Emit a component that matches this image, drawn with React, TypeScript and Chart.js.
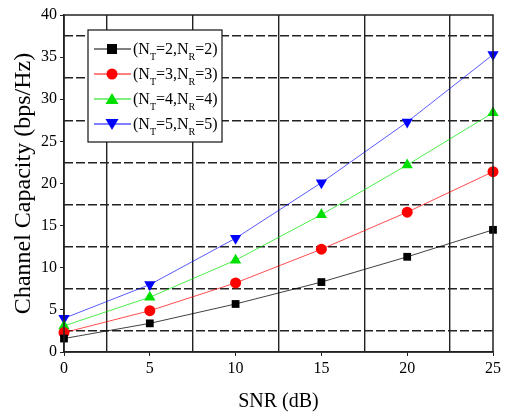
import React, { useEffect, useRef } from "react";
import { Chart, registerables } from "chart.js";

Chart.register(...registerables);

const snr = [0, 5, 10, 15, 20, 25];
const cap22 = [1.6, 3.4, 5.7, 8.3, 11.3, 14.5];
const cap33 = [2.3, 4.9, 8.2, 12.2, 16.6, 21.4];
const cap44 = [3.1, 6.5, 10.9, 16.3, 22.2, 28.4];
const cap55 = [4.0, 8.0, 13.5, 20.1, 27.3, 35.3];

const legendNT = ["2", "3", "4", "5"];
const legendNR = ["2", "3", "4", "5"];

const xGridLines = [2.5, 7.5, 12.5, 17.5, 22.5];
const yGridLines = [2.5, 7.5, 12.5, 17.5, 22.5, 27.5, 32.5, 37.5];

const FONT = "'Liberation Serif', 'Times New Roman', serif";

const seriesStyles = [
  { color: "#000000", line: "rgba(0,0,0,0.75)", point: "rect", rotation: 0, radius: 5.5 },
  { color: "#ff0000", line: "rgba(255,0,0,0.7)", point: "circle", rotation: 0, radius: 5.5 },
  { color: "#00e000", line: "rgba(0,230,0,0.7)", point: "triangle", rotation: 0, radius: 6.5 },
  { color: "#0000ff", line: "rgba(0,0,255,0.65)", point: "triangle", rotation: 180, radius: 6.5 },
];

const frameLegendPlugin = {
  id: "frameLegend",
  afterDraw(chart: any) {
    const { ctx, chartArea } = chart;
    ctx.save();
    ctx.strokeStyle = "#222";
    ctx.lineWidth = 1.5;
    ctx.setLineDash([]);
    ctx.strokeRect(chartArea.left, chartArea.top, chartArea.right - chartArea.left, chartArea.bottom - chartArea.top);

    // legend box
    const bx = 88, by = 30, bw = 134, bh = 112;
    ctx.fillStyle = "#fff";
    ctx.fillRect(bx, by, bw, bh);
    ctx.strokeStyle = "#111";
    ctx.lineWidth = 1.2;
    ctx.strokeRect(bx, by, bw, bh);

    const rows = [49, 74, 99, 124];
    chart.data.datasets.forEach((ds: any, i: number) => {
      const st = seriesStyles[i];
      const cy = rows[i];
      ctx.strokeStyle = st.color;
      ctx.lineWidth = 1;
      ctx.beginPath();
      ctx.moveTo(94, cy);
      ctx.lineTo(131, cy);
      ctx.stroke();
      ctx.fillStyle = st.color;
      ctx.beginPath();
      const mx = 112;
      if (st.point === "rect") {
        ctx.fillRect(mx - 5, cy - 5, 10, 10);
      } else if (st.point === "circle") {
        ctx.arc(mx, cy, 5.5, 0, Math.PI * 2);
        ctx.fill();
      } else if (st.rotation === 0) {
        ctx.moveTo(mx, cy - 6);
        ctx.lineTo(mx + 6.5, cy + 5);
        ctx.lineTo(mx - 6.5, cy + 5);
        ctx.closePath();
        ctx.fill();
      } else {
        ctx.moveTo(mx, cy + 6);
        ctx.lineTo(mx + 6.5, cy - 5);
        ctx.lineTo(mx - 6.5, cy - 5);
        ctx.closePath();
        ctx.fill();
      }
      // text with subscripts
      ctx.fillStyle = "#000";
      ctx.textBaseline = "alphabetic";
      ctx.textAlign = "left";
      const base = cy + 5;
      let x = 133;
      const parts: [string, boolean][] = [
        ["(N", false],
        ["T", true],
        ["=" + legendNT[i] + ",N", false],
        ["R", true],
        ["=" + legendNR[i] + ")", false],
      ];
      parts.forEach(([t, sub]) => {
        ctx.font = sub ? `10px ${FONT}` : `16px ${FONT}`;
        ctx.fillText(t, x, sub ? base + 6 : base);
        x += ctx.measureText(t).width;
      });
    });
    ctx.restore();
  },
};

export default function App() {
  const ref = useRef<HTMLCanvasElement>(null);

  useEffect(() => {
    if (!ref.current) return;
    const mk = (label: string, data: number[], i: number) => {
      const st = seriesStyles[i];
      return {
        label,
        data: snr.map((x, j) => ({ x, y: data[j] })),
        borderColor: st.line,
        backgroundColor: st.color,
        pointBackgroundColor: st.color,
        pointBorderColor: st.color,
        pointBorderWidth: 0,
        pointStyle: st.point,
        rotation: st.rotation,
        pointRadius: st.radius,
        borderWidth: 1,
        tension: 0,
        clip: false as any,
      };
    };
    const chart = new Chart(ref.current, {
      type: "line",
      data: {
        datasets: [
          mk("(NT=2,NR=2)", cap22, 0),
          mk("(NT=3,NR=3)", cap33, 1),
          mk("(NT=4,NR=4)", cap44, 2),
          mk("(NT=5,NR=5)", cap55, 3),
        ],
      },
      options: {
        animation: false,
        responsive: true,
        maintainAspectRatio: false,
        layout: { padding: { top: 15, right: 12, left: 0, bottom: 0 } },
        plugins: { legend: { display: false }, tooltip: { enabled: false } },
        scales: {
          xg: {
            type: "linear",
            position: "bottom",
            min: 0,
            max: 25,
            afterBuildTicks: (s: any) => {
              s.ticks = xGridLines.map((v) => ({ value: v }));
            },
            afterFit: (s: any) => {
              s.height = 0;
            },
            ticks: { display: false },
            grid: { color: "#222", lineWidth: 1.4, drawTicks: false },
            border: { display: false },
          },
          yg: {
            type: "linear",
            position: "left",
            min: 0,
            max: 40,
            afterBuildTicks: (s: any) => {
              s.ticks = yGridLines.map((v) => ({ value: v }));
            },
            afterFit: (s: any) => {
              s.width = 0;
            },
            ticks: { display: false },
            grid: { color: "#222", lineWidth: 1.5, drawTicks: false },
            border: { display: false, dash: [9, 3] },
          },
          x: {
            type: "linear",
            position: "bottom",
            min: 0,
            max: 25,
            afterFit: (s: any) => {
              s.height = 64;
            },
            ticks: {
              stepSize: 5,
              color: "#000",
              padding: 3,
              font: { family: FONT, size: 16 },
            },
            grid: { drawOnChartArea: false, drawTicks: true, tickLength: 4, color: "#222" },
            border: { display: true, color: "#222", width: 1.5 },
            title: {
              display: true,
              text: "SNR (dB)",
              color: "#000",
              font: { family: FONT, size: 20 },
              padding: { top: 0, bottom: 2 },
            },
          },
          y: {
            type: "linear",
            position: "left",
            min: 0,
            max: 40,
            afterFit: (s: any) => {
              s.width = 64;
            },
            ticks: {
              stepSize: 5,
              color: "#000",
              padding: 3,
              font: { family: FONT, size: 16 },
            },
            grid: { drawOnChartArea: false, drawTicks: true, tickLength: 4, color: "#222" },
            border: { display: true, color: "#222", width: 1.5 },
            title: {
              display: true,
              text: "Channel Capacity (bps/Hz)",
              color: "#000",
              font: { family: FONT, size: 24 },
              padding: { top: 9, bottom: 0 },
            },
          },
        },
      },
      plugins: [frameLegendPlugin],
    } as any);
    return () => chart.destroy();
  }, []);

  return (
    <div style={{ position: "fixed", left: 0, top: 0, width: 505, height: 416, background: "#fff" }}>
      <canvas ref={ref} />
    </div>
  );
}
